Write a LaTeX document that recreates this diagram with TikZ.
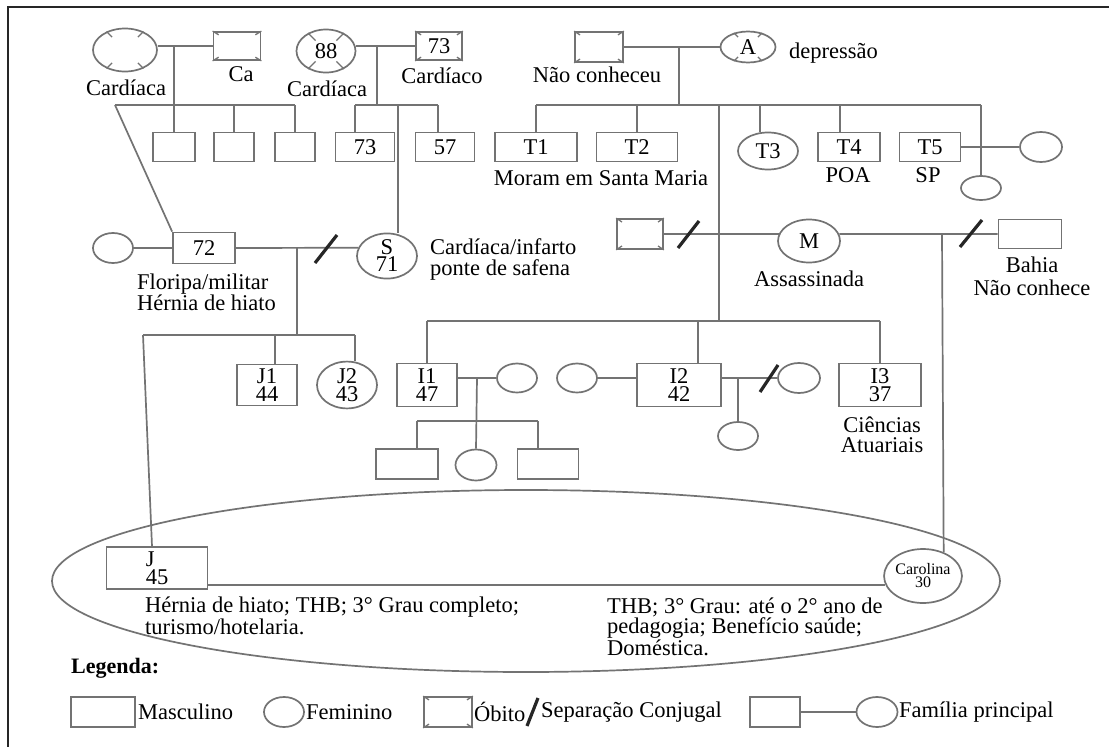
\documentclass[tikz,border=0pt]{standalone}
\usepackage{fontspec}
\setmainfont{Liberation Serif}
\usetikzlibrary{shapes.geometric,calc}
\definecolor{linec}{RGB}{115,115,115}
\newcommand\dfont{\fontsize{22.5}{18}\selectfont}
\newcommand\lfont{\fontsize{22.5}{21}\selectfont}
\newcommand\gfont{\fontsize{22.5}{23}\selectfont}
\newcommand\cfont{\fontsize{16}{13}\selectfont}
\newcommand\deadbox[1]{\foreach \cc in {north west,north east,south west,south east}{\draw[tick] (#1.\cc) -- ($(#1.\cc)!7pt!(#1.center)$);}}
\newcommand\deadell[2]{\foreach \aa in {45,135,225,315}{\draw[tick] (#1.\aa) -- ($(#1.\aa)!#2!(#1.center)$);}}
\begin{document}
\begin{tikzpicture}[x=1pt,y=-1pt,
  gl/.style={draw=linec,line width=1.7pt},
  tick/.style={draw=linec,line width=1.3pt},
  mbox/.style={rectangle,gl,inner sep=0pt,font=\dfont,align=center},
  fell/.style={ellipse,gl,inner sep=0pt,font=\dfont,align=center},
  lbl/.style={inner sep=0pt,font=\lfont},
  sepm/.style={draw=black!85,line width=3.2pt},
  sz/.style 2 args={minimum width=#1pt,minimum height=#2pt},
]
\useasboundingbox (0,0) rectangle (1109,747);
\fill[white] (0,0) rectangle (1109,747);
\draw[line width=2.6pt,black!85] (8,747) -- (8,7) -- (1109,7);

% main family ellipse (behind)
\node[ellipse,gl,sz={948}{182}] (fam) at (526,581) {};

% ---------- generation 1 ----------
\node[fell,sz={64}{43}] (f1) at (125,50) {};
\node[mbox,sz={47}{28}] (m1) at (237,46) {};
\deadell{f1}{0.3} \deadbox{m1}
\node[fell,sz={59}{43}] (f2) at (326,51) {88};
\node[mbox,sz={46}{28}] (m2) at (439,46) {73};
\deadell{f2}{0.42} \deadbox{m2}
\node[mbox,sz={48}{30}] (m3) at (599,47) {};
\node[fell,sz={55}{31}] (fA) at (748,47) {A};
\deadbox{m3} \deadell{fA}{0.3}

\node[lbl] (l1) at (126,88) {Cardíaca};
\node[lbl] (l2) at (241,74) {Ca};
\node[lbl] (l3) at (327,89) {Cardíaca};
\node[lbl] (l4) at (442,76) {Cardíaco};
\node[lbl] (l5) at (597,75) {Não conheceu};
\node[lbl,anchor=west] (l6) at (789,53) {depressão};

% ---------- generation 2 ----------
\node[mbox,sz={42}{29}] (c11) at (174,147) {};
\node[mbox,sz={40}{29}] (c12) at (234,147) {};
\node[mbox,sz={40}{29}] (c13) at (295,147) {};
\node[mbox,sz={59}{29}] (c21) at (365,147) {73};
\node[mbox,sz={59}{29}] (c22) at (445,147) {57};
\node[mbox,sz={82}{29}] (T1) at (536,147) {T1};
\node[mbox,sz={81}{29}] (T2) at (637,147) {T2};
\node[fell,sz={60}{37}] (T3) at (768,151) {T3};
\node[mbox,sz={62}{29}] (T4) at (849,147) {T4};
\node[mbox,sz={61}{29}] (T5) at (930,147) {T5};
\node[fell,sz={42}{30}] (t5w) at (1041,147) {};
\node[fell,sz={40}{24}] (c3x) at (981,188) {};
\node[lbl] (l7) at (601,178) {Moram em Santa Maria};
\node[lbl] (l8) at (848,175) {POA};
\node[lbl] (l9) at (928,175) {SP};

% ---------- generation 3 ----------
\node[fell,sz={40}{30}] (w72) at (113,248) {};
\node[mbox,sz={62}{31}] (b72) at (204,248) {72};
\node[fell,sz={60}{42},font=\fontsize{22.5}{17}\selectfont] (S) at (387,256) {S\\71};
\node[lbl,anchor=north west,align=left,font=\fontsize{22.5}{21}\selectfont] (l10) at (137,274) {Floripa/militar\\Hérnia de hiato};
\node[lbl,anchor=north west,align=left,font=\fontsize{22.5}{21}\selectfont] (l11) at (430,238) {Cardíaca/infarto\\ponte de safena};
\node[mbox,sz={46}{30}] (md) at (640,234) {};
\deadbox{md}
\node[fell,sz={62}{43}] (M) at (809,241) {M};
\node[lbl] (l12) at (809,279) {Assassinada};
\node[mbox,sz={63}{29}] (bahia) at (1030,234) {};
\node[lbl,anchor=north,align=center,font=\fontsize{22.5}{23}\selectfont] (l13) at (1032,257) {Bahia\\Não conhece};

% ---------- generation 4 ----------
\node[mbox,sz={60}{41}] (J1) at (267,385) {J1\\44};
\node[fell,sz={60}{41}] (J2) at (347,385) {J2\\43};
\node[mbox,sz={60}{43}] (I1) at (427,385) {I1\\47};
\node[fell,sz={40}{29}] (I1w) at (517,378) {};
\node[fell,sz={40}{29}] (I2w) at (577,378) {};
\node[mbox,sz={84}{43}] (I2) at (679,385) {I2\\42};
\node[fell,sz={42}{30}] (I2w2) at (799,378) {};
\node[fell,sz={40}{28}] (i2c) at (738,436) {};
\node[mbox,sz={82}{43}] (I3) at (880,385) {I3\\37};
\node[lbl,anchor=north,align=center,font=\fontsize{22.5}{20}\selectfont] (l14) at (882,417) {Ciências\\Atuariais};
\node[mbox,sz={62}{30}] (i1c1) at (407,464) {};
\node[fell,sz={41}{31}] (i1c2) at (476,465) {};
\node[mbox,sz={61}{30}] (i1c3) at (548,464) {};

% ---------- main family ----------
\node[mbox,sz={101}{42},align=left] (J) at (157,568) {J\\45};
\node[fell,sz={64}{54},font=\cfont] (Car) at (923,576) {Carolina\\30};
\node[lbl,anchor=north west,align=left,font=\fontsize{22.5}{18.5}\selectfont] (l15) at (145,597) {Hérnia de hiato; THB; 3° Grau completo;\\turismo/hotelaria.};
\node[lbl,anchor=north west,align=left,font=\fontsize{22.5}{20}\selectfont] (l16) at (607,598) {THB; 3° Grau: até o 2° ano de\\pedagogia; Benefício saúde;\\Doméstica.};

% ---------- connectors ----------
% family 1
\coordinate (k1) at (115,105);
\draw[gl] (f1.east |- m1) -- (m1.west);
\draw[gl] (c11.north |- m1) -- (c11.north);
\draw[gl] (k1) -- (c13.north |- k1);
\draw[gl] (c12.north |- k1) -- (c12.north);
\draw[gl] (c13.north |- k1) -- (c13.north);
\draw[gl] (k1) -- (b72.north west);
% family 2
\coordinate (k2) at (377,105);
\coordinate (sv) at (398,105);
\coordinate (c21t) at ([xshift=-10pt]c21.north);
\coordinate (c22t) at ([xshift=-7pt]c22.north);
\draw[gl] (f2.east |- m2) -- (m2.west);
\draw[gl] (k2 |- m2) -- (k2);
\draw[gl] (c21t |- k2) -- (c22t |- k2);
\draw[gl] (c21t |- k2) -- (c21t);
\draw[gl] (c22t |- k2) -- (c22t);
\draw[gl] (sv) -- (sv |- S.north);
% family 3
\coordinate (k3) at (679,105);
\coordinate (mv) at (719,105);
\coordinate (T3t) at ([xshift=-8pt]T3.north);
\coordinate (T4t) at ([xshift=-9pt]T4.north);
\draw[gl] (m3.east) -- (fA.west);
\draw[gl] (k3 |- m3) -- (k3);
\draw[gl] (T1.north |- k3) -- (c3x.north |- k3);
\draw[gl] (T1.north |- k3) -- (T1.north);
\draw[gl] (T2.north |- k3) -- (T2.north);
\draw[gl] (T3t |- k3) -- (T3t);
\draw[gl] (T4t |- k3) -- (T4t);
\draw[gl] (c3x.north |- k3) -- (c3x.north);
\draw[gl] (T5.east) -- (t5w.west);
% generation 3 couples
\draw[gl] (w72.east) -- (b72.west);
\draw[gl] (b72.east) -- (S.164);
\draw[sepm] (315,263) -- (337,235);
\draw[gl] (md.east) -- (M.167);
\draw[sepm] (678,248) -- (699,221);
\draw[gl] (M.13) -- (bahia.west);
\draw[sepm] (960,247) -- (982,220);
% children of 72 and S
\coordinate (jv) at (297,248);
\coordinate (jb) at (143,335);
\coordinate (J1t) at ([xshift=8pt]J1.north);
\coordinate (J2t) at ([xshift=8pt]J2.north);
\coordinate (Jt) at ([xshift=-5pt]J.north);
\draw[gl] (jv) -- (jv |- jb);
\draw[gl] (jb) -- (J2t |- jb);
\draw[gl] (J1t |- jb) -- (J1t);
\draw[gl] (J2t |- jb) -- (J2t);
\draw[gl] (jb) -- (Jt);
% children of M
\coordinate (ib) at (719,321);
\coordinate (I2t) at ([xshift=19pt]I2.north);
\draw[gl] (mv) -- (ib);
\draw[gl] (I1.north |- ib) -- (I3.north |- ib);
\draw[gl] (I1.north |- ib) -- (I1.north);
\draw[gl] (I2t |- ib) -- (I2t);
\draw[gl] (I3.north |- ib) -- (I3.north);
% I1 family
\coordinate (i1v) at (477,378);
\coordinate (i1b) at (477,421);
\coordinate (i1c1t) at ([xshift=10pt]i1c1.north);
\coordinate (i1c3t) at ([xshift=-10pt]i1c3.north);
\draw[gl] (I1.east |- I1w) -- (I1w.west);
\draw[gl] (i1v) -- (i1c2.north);
\draw[gl] (i1c1t |- i1b) -- (i1c3t |- i1b);
\draw[gl] (i1c1t |- i1b) -- (i1c1t);
\draw[gl] (i1c3t |- i1b) -- (i1c3t);
% I2 family
\coordinate (i2v) at (738,378);
\draw[gl] (I2w.east) -- (I2.west |- I2w);
\draw[gl] (I2.east |- I2w2) -- (I2w2.west);
\draw[sepm] (760,392) -- (778,365);
\draw[gl] (i2v) -- (i2c.north);
% main couple
\coordinate (cv) at (942,234);
\draw[gl] (cv) -- (Car.49);
\draw[gl] (Car.193 -| J.east) -- (Car.193);

% ---------- legend ----------
\node[inner sep=0pt,anchor=base west,font=\fontsize{22}{23}\selectfont\bfseries] (leg) at (71,673) {Legenda:};
\node[mbox,sz={64}{30}] (lm) at (103,712) {};
\node[lbl,anchor=west,font=\gfont] (lmt) at (138,712) {Masculino};
\node[fell,sz={40}{30}] (lf) at (284,712) {};
\node[lbl,anchor=west,font=\gfont] (lft) at (306,712) {Feminino};
\node[mbox,sz={48}{30}] (lo) at (448,712) {};
\deadbox{lo}
\node[lbl,anchor=west,font=\gfont] (lot) at (474,712) {Óbito};
\draw[sepm] (527,726) -- (538,698);
\node[lbl,anchor=west,font=\gfont] (lst) at (541,712) {Separação Conjugal};
\node[mbox,sz={50}{30}] (lpb) at (775,712) {};
\node[fell,sz={41}{30}] (lpe) at (877,712) {};
\draw[gl] (lpb.east) -- (lpe.west);
\node[lbl,anchor=west,font=\gfont] (lpt) at (899,712) {Família principal};
\end{tikzpicture}
\end{document}
